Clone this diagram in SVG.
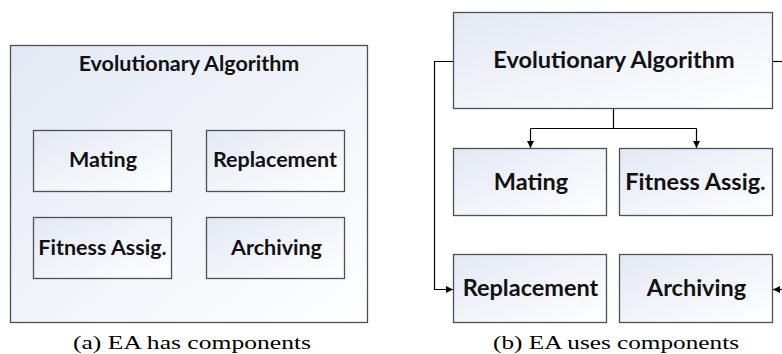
<svg xmlns="http://www.w3.org/2000/svg" width="782" height="354" viewBox="0 0 782 354">
<defs>
<linearGradient id="g" x1="0" y1="0" x2="1" y2="1">
<stop offset="0" stop-color="#e3e8f4"/>
<stop offset="1" stop-color="#ffffff"/>
</linearGradient>
<marker id="ah" viewBox="0 0 10 10" refX="10" refY="5" markerWidth="7" markerHeight="7" orient="auto" markerUnits="userSpaceOnUse">
<path d="M0,0 L10,5 L0,10 Z" fill="#000"/>
</marker>
</defs>
<style>
.box{fill:url(#g);stroke:#505050;stroke-width:1.3}
.lbl{font-family:Lato,"Open Sans",sans-serif;font-weight:bold;fill:#111;text-anchor:middle}
.cap{font-family:"Liberation Serif",serif;font-size:18px;fill:#000;text-anchor:middle}
.conn{fill:none;stroke:#000;stroke-width:1.2}
</style>
<rect width="782" height="354" fill="#fff"/>
<g id="ea-a">
<rect class="box" x="10.5" y="45.5" width="357" height="277"/>
<text class="lbl" x="189" y="71" font-size="21.5">Evolutionary Algorithm</text>
</g>
<g id="mating-a"><rect class="box" x="33.5" y="130.5" width="138" height="61"/><text class="lbl" x="103" y="167" font-size="21.5">Mating</text></g>
<g id="replacement-a"><rect class="box" x="206.5" y="130.5" width="138" height="61"/><text class="lbl" x="275" y="167" font-size="21.5">Replacement</text></g>
<g id="fitness-a"><rect class="box" x="33.5" y="217.5" width="138" height="61"/><text class="lbl" x="102.5" y="255" font-size="21.5">Fitness Assig.</text></g>
<g id="archiving-a"><rect class="box" x="206.5" y="217.5" width="138" height="61"/><text class="lbl" x="276.5" y="255" font-size="21.5">Archiving</text></g>
<g id="ea-b">
<rect class="box" x="453.5" y="12.5" width="319" height="96"/>
<text class="lbl" x="614" y="68" font-size="23.5">Evolutionary Algorithm</text>
</g>
<g id="mating-b"><rect class="box" x="453.5" y="148.5" width="153" height="67"/><text class="lbl" x="531" y="190" font-size="23.5">Mating</text></g>
<g id="fitness-b"><rect class="box" x="619.5" y="148.5" width="153" height="67"/><text class="lbl" x="695.5" y="190" font-size="23.5">Fitness Assig.</text></g>
<g id="replacement-b"><rect class="box" x="453.5" y="254.5" width="153" height="68"/><text class="lbl" x="530.5" y="296" font-size="23.5">Replacement</text></g>
<g id="archiving-b"><rect class="box" x="619.5" y="254.5" width="153" height="68"/><text class="lbl" x="696.5" y="296" font-size="23.5">Archiving</text></g>
<g id="connectors">
<path class="conn" d="M613.5,109 V128.5"/>
<path class="conn" d="M530.5,128.5 H696.5"/>
<path class="conn" d="M530.5,128.5 V148" marker-end="url(#ah)"/>
<path class="conn" d="M696.5,128.5 V148" marker-end="url(#ah)"/>
<path class="conn" d="M453,61.5 H434.5 V289.5 H453" marker-end="url(#ah)"/>
<path class="conn" d="M773,61.5 H782"/>
<path class="conn" d="M790,289.5 H773" marker-end="url(#ah)"/>
</g>
<text class="cap" x="192" y="349" textLength="238" lengthAdjust="spacingAndGlyphs">(a) EA has components</text>
<text class="cap" x="616" y="349" textLength="246" lengthAdjust="spacingAndGlyphs">(b) EA uses components</text>
</svg>
